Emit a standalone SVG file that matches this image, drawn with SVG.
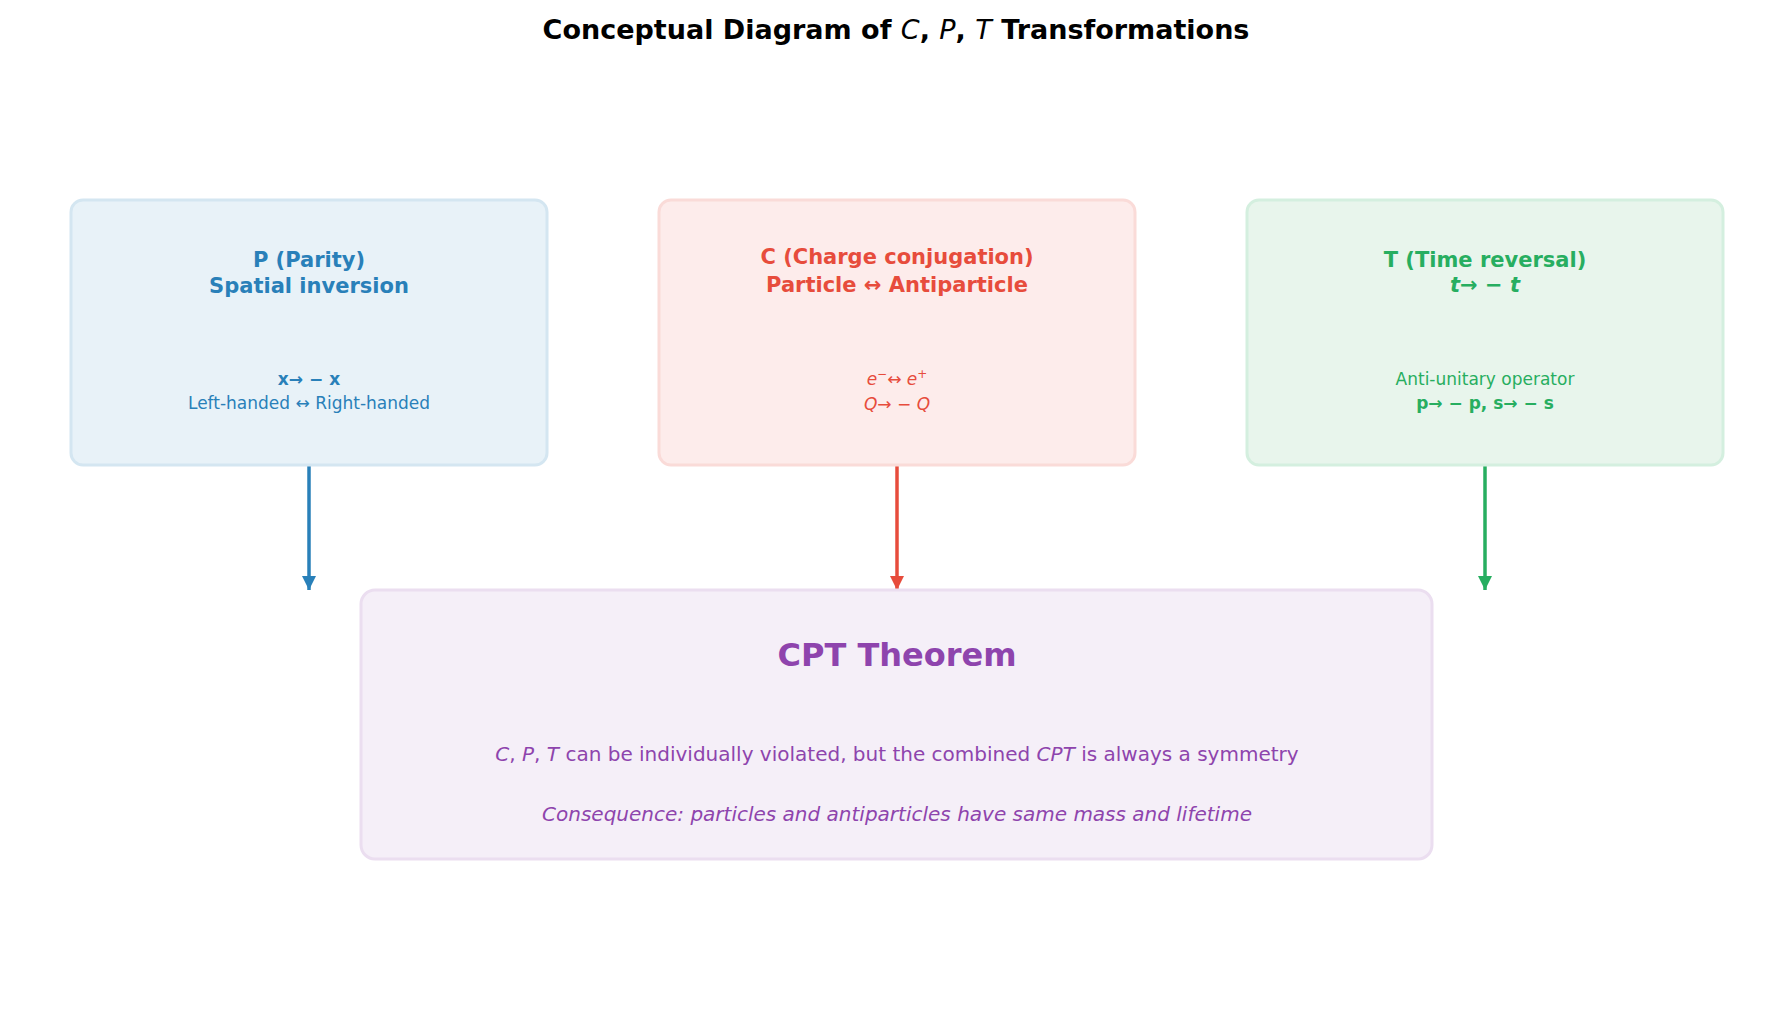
<svg xmlns="http://www.w3.org/2000/svg" width="1785" height="1033" viewBox="0 0 1785 1033">
<defs>
<marker id="ab" viewBox="0 0 10 10" refX="5" refY="10" markerWidth="4" markerHeight="4" orient="auto-start-reverse" markerUnits="strokeWidth"><path d="M0,0 L10,0 L5,10 Z" fill="#2980b9" transform="rotate(-90 5 5)"/></marker>
<marker id="ar" viewBox="0 0 10 10" refX="10" refY="5" markerWidth="4" markerHeight="4" orient="auto" markerUnits="strokeWidth"><path d="M0,0 L10,5 L0,10 Z" fill="#e74c3c"/></marker>
<marker id="ag" viewBox="0 0 10 10" refX="10" refY="5" markerWidth="4" markerHeight="4" orient="auto" markerUnits="strokeWidth"><path d="M0,0 L10,5 L0,10 Z" fill="#27ae60"/></marker>
<marker id="abl" viewBox="0 0 10 10" refX="10" refY="5" markerWidth="4" markerHeight="4" orient="auto" markerUnits="strokeWidth"><path d="M0,0 L10,5 L0,10 Z" fill="#2980b9"/></marker>
</defs>
<style>
text{font-family:"DejaVu Sans",sans-serif;text-anchor:middle}
.h{font-size:21px;font-weight:bold}
.s{font-size:17px}
.b{font-weight:bold}
.i{font-style:italic}
.box{stroke-width:3}
</style>
<rect width="1785" height="1033" fill="#fff"/>
<text x="896" y="39" style="font-size:27px;font-weight:bold" fill="#000">Conceptual Diagram of <tspan class="i" font-weight="normal">C</tspan>, <tspan class="i" font-weight="normal">P</tspan>, <tspan class="i" font-weight="normal">T</tspan> Transformations</text>
<g id="connectors" stroke-width="3.5" fill="none">
<line x1="309" y1="465" x2="309" y2="590" stroke="#2980b9" marker-end="url(#abl)"/>
<line x1="897" y1="465" x2="897" y2="590" stroke="#e74c3c" marker-end="url(#ar)"/>
<line x1="1485" y1="465" x2="1485" y2="590" stroke="#27ae60" marker-end="url(#ag)"/>
</g>
<g id="P" fill="#2980b9">
<rect class="box" x="71" y="200" width="476" height="265" rx="12" fill="#e8f2f8" stroke="#d4e6f1"/>
<text class="h" x="309" y="267">P (Parity)</text>
<text class="h" x="309" y="293">Spatial inversion</text>
<text class="s b" x="309" y="385">x→ − x</text>
<text class="s" x="309" y="409">Left-handed ↔ Right-handed</text>
</g>
<g id="C" fill="#e74c3c">
<rect class="box" x="659" y="200" width="476" height="265" rx="12" fill="#fdeceb" stroke="#fadbd8"/>
<text class="h" x="897" y="264">C (Charge conjugation)</text>
<text class="h" x="897" y="292">Particle ↔ Antiparticle</text>
<text class="s i" x="897" y="385">e<tspan dy="-7" font-size="12">−</tspan><tspan dy="7">↔ e</tspan><tspan dy="-7" font-size="12">+</tspan></text>
<text class="s i" x="897" y="410">Q→ − Q</text>
</g>
<g id="T" fill="#27ae60">
<rect class="box" x="1247" y="200" width="476" height="265" rx="12" fill="#e8f5ec" stroke="#d4efdf"/>
<text class="h" x="1485" y="267">T (Time reversal)</text>
<text class="h i" font-weight="normal" x="1485" y="292">t→ − t</text>
<text class="s" x="1485" y="385">Anti-unitary operator</text>
<text class="s b" x="1485" y="409">p→ − p, s→ − s</text>
</g>
<g id="CPT" fill="#8e44ad">
<rect class="box" x="361" y="590" width="1071" height="269" rx="14" fill="#f5eff8" stroke="#ebdef0"/>
<text x="897" y="666" style="font-size:32px;font-weight:bold">CPT Theorem</text>
<text x="897" y="761" style="font-size:20px"><tspan class="i">C</tspan>, <tspan class="i">P</tspan>, <tspan class="i">T</tspan> can be individually violated, but the combined <tspan class="i">CPT</tspan> is always a symmetry</text>
<text class="i" x="897" y="821" style="font-size:20px">Consequence: particles and antiparticles have same mass and lifetime</text>
</g>
</svg>
